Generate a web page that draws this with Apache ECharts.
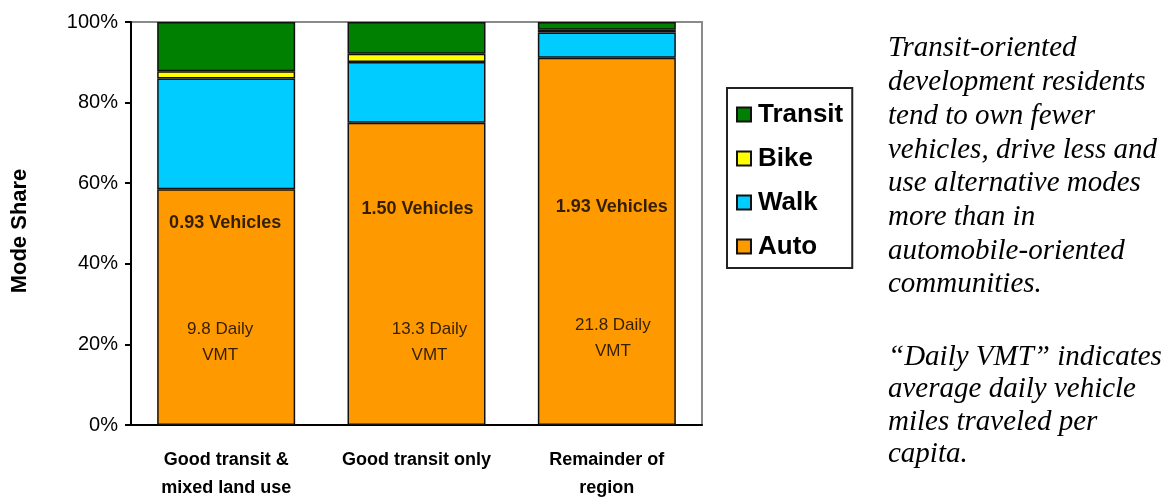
<!DOCTYPE html>
<html>
<head>
<meta charset="utf-8">
<script src="https://cdn.jsdelivr.net/npm/echarts@6/dist/echarts.min.js"></script>
<style>
  html, body { margin: 0; padding: 0; background: #fff; }
  #main { width: 1170px; height: 497px; }
</style>
</head>
<body>
<div id="main"></div>
<script>
// categories and mode shares (%)
var categories = ['Good transit &\nmixed land use', 'Good transit only', 'Remainder of\nregion'];
var auto = [58.5, 75.0, 91.1];
var walk = [27.5, 15.1, 6.3];
var bike = [1.8, 2.0, 0.7];
var transit = [12.2, 7.9, 1.9];

var vehicles = ['0.93', '1.50', '1.93'];
var dailyVmt = ['9.8', '13.3', '21.8'];

var yTicks = [0, 20, 40, 60, 80, 100];

var note1 = 'Transit-oriented\ndevelopment residents\ntend to own fewer\nvehicles, drive less and\nuse alternative modes\nmore than in\nautomobile-oriented\ncommunities.';
var note2 = '\u201cDaily VMT\u201d indicates\naverage daily vehicle\nmiles traveled per\ncapita.';

// where the in-bar notes sit (y in %, x shift in px)
var vehLabelY = [50.1, 53.6, 54.1];
var vehShift = [-1, 1, 5];
var vmtLabelY = [20.6, 20.6, 21.6];
var vmtShift = [-6, 13, 6];

var chart = echarts.init(document.getElementById('main'));

var narrow = '"Liberation Sans Narrow", "Arial Narrow", "Liberation Sans", Arial, sans-serif';
var sans = '"Liberation Sans", Arial, sans-serif';
var serif = '"Liberation Serif", "Times New Roman", serif';

function barSeries(name, data, color) {
    return {
        name: name,
        type: 'bar',
        stack: 'mode',
        barWidth: '72.5%',
        data: data,
        itemStyle: { color: color, borderColor: '#111', borderWidth: 1.5 },
        emphasis: { disabled: true }
    };
}

var vehPoints = vehicles.map(function (v, i) {
    return { value: [i, vehLabelY[i]], label: { formatter: v + ' Vehicles', offset: [vehShift[i], 0] } };
});
var vmtPoints = dailyVmt.map(function (v, i) {
    return { value: [i, vmtLabelY[i]], label: { formatter: v + ' Daily\nVMT', offset: [vmtShift[i], 0] } };
});

var option = {
    backgroundColor: '#fff',
    animation: false,
    grid: {
        left: 131, right: 468, top: 22, bottom: 72,
        outerBoundsMode: 'none',
        containLabel: false,
        show: true, borderColor: '#8a8a8a', borderWidth: 2, backgroundColor: 'transparent'
    },
    legend: {
        orient: 'vertical',
        left: 727, top: 88,
        padding: [13, 9, 8, 9],
        itemGap: 17,
        itemWidth: 14, itemHeight: 14,
        icon: 'rect',
        borderColor: '#222', borderWidth: 2,
        data: ['Transit', 'Bike', 'Walk', 'Auto'],
        textStyle: { fontFamily: sans, fontWeight: 'bold', fontSize: 26, color: '#000', lineHeight: 27, padding: [0, 0, 0, 2] }
    },
    xAxis: {
        type: 'category',
        data: categories,
        axisLine: { lineStyle: { color: '#000', width: 2 } },
        axisTick: { length: 7, lineStyle: { color: '#000', width: 2 } },
        axisLabel: {
            interval: 0,
            fontFamily: narrow, fontWeight: 'bold', fontSize: 18, color: '#000',
            lineHeight: 28, margin: 21
        }
    },
    yAxis: {
        type: 'value',
        min: 0, max: 100, interval: 20,
        axisLine: { show: true, lineStyle: { color: '#000', width: 2 } },
        axisTick: { show: true, length: 6, lineStyle: { color: '#000', width: 2 } },
        splitLine: { show: false },
        axisLabel: {
            fontFamily: sans, fontSize: 20, color: '#000', margin: 13,
            formatter: function (v) { return yTicks.indexOf(v) >= 0 ? v + '%' : ''; }
        }
    },
    graphic: [
        {
            type: 'text', x: 20, y: 231, rotation: Math.PI / 2,
            style: { text: 'Mode Share', fontFamily: sans, fontWeight: 'bold', fontSize: 22, fill: '#000', align: 'center', verticalAlign: 'middle' }
        },
        {
            type: 'text', left: 888, top: 32,
            style: { text: note1, fontFamily: serif, fontStyle: 'italic', fontSize: 29, lineHeight: 33.7, fill: '#000' }
        },
        {
            type: 'text', left: 888, top: 341,
            style: { text: note2, fontFamily: serif, fontStyle: 'italic', fontSize: 29, lineHeight: 32.5, fill: '#000' }
        }
    ],
    series: [
        barSeries('Auto', auto, '#ff9900'),
        barSeries('Walk', walk, '#00ccff'),
        barSeries('Bike', bike, '#ffff00'),
        barSeries('Transit', transit, '#008000'),
        {
            type: 'scatter', symbolSize: 0, silent: true, z: 5,
            data: vehPoints,
            label: { show: true, position: 'inside', fontFamily: narrow, fontWeight: 'bold', fontSize: 18, color: '#000' }
        },
        {
            type: 'scatter', symbolSize: 0, silent: true, z: 5,
            data: vmtPoints,
            label: { show: true, position: 'inside', fontFamily: narrow, fontSize: 17, lineHeight: 26, color: '#000' }
        }
    ]
};

chart.setOption(option);
</script>
</body>
</html>
